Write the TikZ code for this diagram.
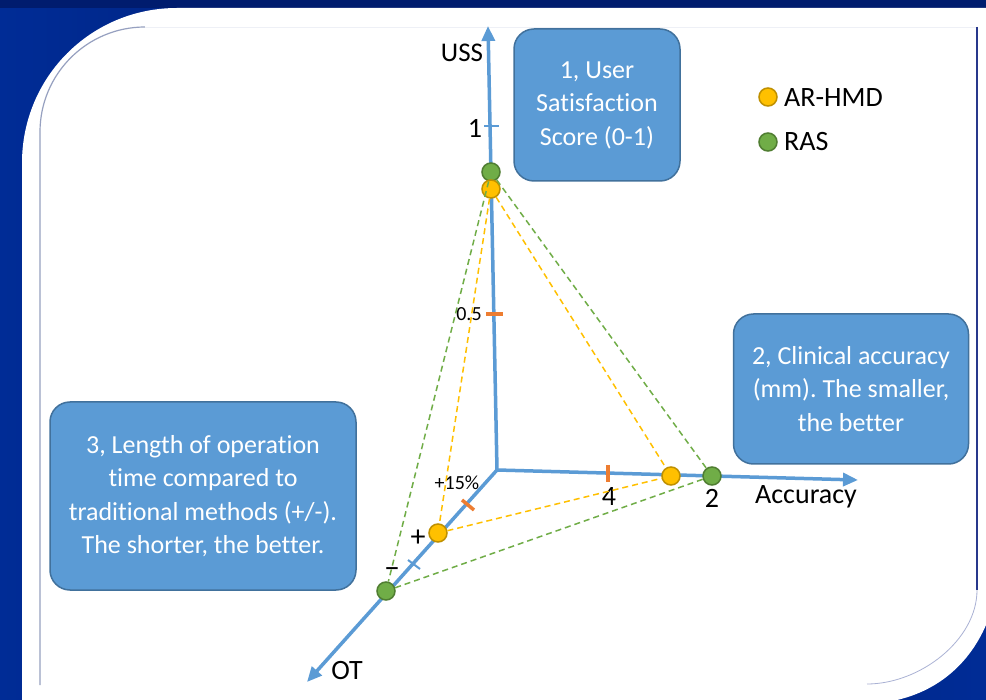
\documentclass[tikz,border=0pt]{standalone}
\usepackage{fontspec}
\setmainfont{Carlito}[Ligatures={NoCommon}]
\usetikzlibrary{arrows.meta}
\frenchspacing

\definecolor{axisblue}{HTML}{5B9BD5}
\definecolor{boxedge}{HTML}{41719C}
\definecolor{hmdfill}{HTML}{FFC000}
\definecolor{hmdedge}{HTML}{BF9000}
\definecolor{rasfill}{HTML}{70AD47}
\definecolor{rasedge}{HTML}{507E32}
\definecolor{tickorange}{HTML}{ED7D31}
\definecolor{navyA}{RGB}{0,44,150}
\definecolor{navyB}{RGB}{0,28,112}
\definecolor{navyTop}{RGB}{0,28,110}
\definecolor{frameL}{RGB}{150,160,192}
\definecolor{frameR}{RGB}{40,56,140}
\definecolor{frameArc}{RGB}{170,178,212}
\definecolor{frameTop}{RGB}{238,240,246}

\tikzset{
  axis/.style={line width=3.5pt, draw=axisblue, -{Triangle[length=15pt,width=13pt]}},
  infobox/.style={draw=boxedge, line width=1.5pt, fill=axisblue, rounded corners=20pt,
    text=white, align=center, inner sep=0pt, font=\fontsize{26}{33.5}\selectfont\frenchspacing},
  hmd/.style={circle, draw=hmdedge, fill=hmdfill, line width=1.5pt, minimum size=18pt, inner sep=0pt},
  ras/.style={circle, draw=rasedge, fill=rasfill, line width=1.5pt, minimum size=18pt, inner sep=0pt},
  hmdlink/.style={draw=hmdfill, dash pattern=on 6pt off 4pt, line width=1.5pt},
  raslink/.style={draw=rasfill, dash pattern=on 6pt off 4pt, line width=1.5pt},
  tickmark/.style={line width=3.5pt, draw=tickorange},
  bluetick/.style={line width=2pt, draw=axisblue},
  lbl/.style={inner sep=0pt, font=\fontsize{28}{32}\selectfont},
  smalllbl/.style={inner sep=0pt, font=\fontsize{20}{24}\selectfont}
}

\begin{document}
\begin{tikzpicture}[x=1pt, y=-1pt]
\useasboundingbox (0,0) rectangle (986,700);

% navy background
\shade[left color=navyA, right color=navyA, middle color=navyB] (0,0) rectangle (986,700);
\fill[navyTop] (0,0) rectangle (986,8);

% white card
\fill[white] (22,700) -- (22,163) .. controls (22,77) and (91,8) .. (177,8) -- (986,8)
  -- (986,625) .. controls (970,662) and (940,690) .. (897,700) -- cycle;

% inner frame lines
\draw[frameL, line width=1.2pt] (40,685) -- (40,132) .. controls (40,74) and (87,27) .. (145,27);
\draw[frameTop, line width=0.8pt] (145,27) -- (977,27);
\draw[frameR, line width=1.6pt] (977,27) -- (977,590);
\draw[frameArc, line width=0.8pt] (977,590) .. controls (977,640) and (920,684) .. (867,684);

% axes
\coordinate (O) at (497,470);
\coordinate (ussTip) at (488,26);
\coordinate (accTip) at (858,480);
\coordinate (otTip) at (307,682);
\draw[axis] (O) -- (ussTip);
\draw[axis] (O) -- (accTip);
\draw[axis] (O) -- (otTip);

% scale marks
\draw[bluetick] (484,126) -- (499,126);
\draw[tickmark] (486,314) -- (503,314);
\draw[tickmark] (608,465) -- (608,482);
\draw[tickmark] (462,500) -- (474,510);
\draw[bluetick] (408,560) -- (420,569);

% axis labels and scale values
\node[lbl, font=\fontsize{27}{31}\selectfont] (lUSS) at (462,53) {USS};
\node[lbl] (lOne) at (475,128) {1};
\node[smalllbl] (lHalf) at (469,314) {0.5};
\node[lbl] (lAcc) at (806,497) {Accuracy};
\node[lbl] (lFour) at (609,497) {4};
\node[lbl] (lTwo) at (712,498) {2};
\node[lbl] (lOT) at (347,671) {OT};
\node[smalllbl] (lPct) at (457,483) {+15\%};
\node[lbl, font=\fontsize{30}{34}\selectfont] (lPlus) at (418,538) {+};
\node[lbl, font=\fontsize{32}{36}\selectfont, anchor=base] (lMinus) at (392,577) {\textendash};

% data points (green first so the yellow one sits on top where they overlap)
\node[ras] (rU) at (491,172) {};
\node[hmd] (hU) at (491,189) {};
\node[hmd] (hA) at (671,476) {};
\node[ras] (rA) at (712,476) {};
\node[hmd] (hT) at (438,533) {};
\node[ras] (rT) at (386,591) {};

% dashed triangles joining the points
\draw[hmdlink] (hU) -- (hA);
\draw[hmdlink] (hU) -- (hT);
\draw[hmdlink] (hT) -- (hA);
\draw[raslink] (rU) -- (rA);
\draw[raslink] (rU) -- (rT);
\draw[raslink] (rT) -- (rA);

% description boxes
\node[infobox, minimum width=166pt, minimum height=152pt] (b1) at (597,105)
  {1, User\\Satisfaction\\Score (0-1)};
\node[infobox, minimum width=235pt, minimum height=150pt] (b2) at (851,389)
  {2, Clinical accuracy\\(mm). The smaller,\\the better};
\node[infobox, minimum width=306pt, minimum height=188pt] (b3) at (203,496)
  {3, Length of operation\\time compared to\\traditional methods (+/-).\\The shorter, the better.};

% legend
\node[hmd] (kH) at (768,97) {};
\node[ras] (kR) at (768,142) {};
\node[lbl, anchor=west] (kHt) at (784,98) {AR-HMD};
\node[lbl, anchor=west] (kRt) at (784,142) {RAS};
\end{tikzpicture}
\end{document}
